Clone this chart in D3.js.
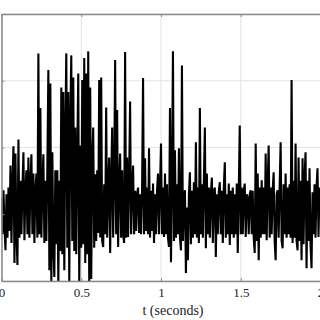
<!DOCTYPE html>
<html>
<head>
<meta charset="utf-8">
<script src="https://cdnjs.cloudflare.com/ajax/libs/d3/7.8.5/d3.min.js"></script>
<style>
    body { margin: 0; background: #fff; }
    svg { display: block; }
    .tick text { font-family: "Liberation Serif", "Times New Roman", serif; font-size: 13px; fill: #222; }
</style>
</head>
<body>
<div id="svg_container"></div>
<script>
// Signal values, one sample every 0.00625 s
var signal = [
     0.25, -0.30,  0.36, -0.20, -0.54,  0.30, -0.35,  0.40, -0.25,  0.73,
    -0.43,  0.45,  1.02, -0.73,  0.91, -0.30, -0.76,  1.12, -0.35,  0.50,
    -0.30,  0.40,  0.93, -0.39,  0.35,  0.66, -0.30,  0.85, -0.35,  0.45,
     0.90, -0.30,  0.61, -0.43,  0.35,  0.61, -0.35,  2.41, -0.30,  1.59,
    -0.35,  0.45,  0.90, -0.43,  0.50, -0.40,  0.70,  2.16, -0.84,  1.96,
    -1.05,  0.93, -0.50, -0.94,  0.66, -0.45,  0.66, -1.05,  0.50, -0.55,
     1.90, -0.60,  1.83, -0.84,  1.20,  2.41, -0.50,  1.83, -1.05,  1.40,
     2.38, -0.40,  2.05, -0.55,  1.30, -0.60,  0.90,  2.11, -1.05,  1.03,
    -0.50,  2.01, -0.45,  2.34, -0.73,  2.11, -0.60,  2.44, -1.05,  1.90,
    -0.97,  0.80,  1.30, -0.50,  0.60, -0.40,  0.66, -0.28,  2.01, -0.35,
     2.05, -0.40, -0.49,  0.45, -0.30,  1.60, -0.35,  0.40,  0.85, -0.58,
     0.50,  1.30, -0.35,  0.55,  2.31, -0.30,  1.56, -0.49,  0.45,  0.91,
    -0.35,  0.66, -0.30, -0.43,  2.43, -0.35,  0.85, -0.34,  0.50,  1.69,
    -0.30,  0.40,  0.73, -0.30,  0.35, -0.25,  0.30,  0.40, -0.28,  0.30,
    -0.30,  0.35,  2.04, -0.30,  0.84, -0.25,  0.40, -0.30,  0.99, -0.35,
     0.35, -0.25,  0.46, -0.43,  0.30, -0.30,  0.35,  0.61, -0.30,  0.40,
     1.06, -0.30,  0.40, -0.34,  0.61, -0.30,  0.45, -0.35, -0.49,  1.59,
    -0.72,  0.50,  2.44, -0.40,  0.96, -0.35,  0.45, -0.30,  0.99, -0.35,
    -0.54,  2.23, -0.40,  0.20,  0.36, -0.88,  0.10, -0.69,  0.30,  0.63,
    -0.45,  0.35, -0.35,  0.48, -0.30,  1.08, -0.35,  0.40, -0.43,  1.59,
    -0.30,  0.45, -0.35,  0.50,  1.30, -0.51,  0.61, -0.30,  0.40, -0.35,
     0.30,  0.55, -0.43,  0.35,  0.40, -0.64,  0.30, -0.30,  0.35,  0.48,
    -0.30,  0.35, -0.43,  0.40,  0.78, -0.35,  0.30, -0.30,  0.46, -0.46,
     0.35, -0.30,  0.40, -0.35,  0.30, -0.30,  0.46, -0.58,  0.35,  1.33,
    -0.30,  0.40, -0.30,  0.35,  0.46, -0.34,  0.30,  0.25, -0.30,  0.30,
     0.36, -0.30,  0.35, -0.35, -0.58,  1.06, -0.40,  0.61, -0.69,  0.40,
    -0.35,  0.51, -0.30,  0.40, -0.30,  0.91, -0.39,  0.45,  1.03, -0.35,
     0.40, -0.30,  0.35,  0.63, -0.40, -0.69,  0.30,  0.36, -0.35,  0.40,
     1.08, -0.40, -0.51,  0.45, -0.30,  0.61, -0.35,  0.40, -0.30,  0.45,
    -0.35,  2.01, -0.43,  0.50, -0.35,  1.06, -0.40, -0.54,  0.85, -0.40,
     0.50, -0.69,  0.84, -0.45,  0.55,  0.93, -0.81,  0.50, -0.40,  0.69,
    -0.45, -0.81,  0.33, -0.30,  0.45, -0.35,  0.40,  0.69, -0.34,  0.40
];
var dt = 0.00625;
var xTicks = [0, 0.5, 1, 1.5, 2];
var xTickLabels = ["0", "0.5", "1", "1.5", "2"];
var yTicks = [-1, 0, 1, 2, 3];
var xTitle = "t (seconds)";

// Chart dimension
var margin = {top: 14, right: 0, bottom: 39, left: 1.5};
var width = 319;
var height = 320 - margin.top - margin.bottom;

var svg = d3.select("#svg_container")
    .append("svg")
    .attr("width", 320)
    .attr("height", 320);

var g = svg.append("g").attr("transform", "translate(" + margin.left + "," + margin.top + ")");

var x = d3.scaleLinear().domain([0, 2]).range([0, width]);
var y = d3.scaleLinear().domain([-1, 3]).range([height, 0]);

// Grid lines
var grid = g.append("g").attr("class", "grid");

grid.selectAll("line.gx")
    .data(xTicks)
    .enter()
    .append("line")
    .attr("class", "gx")
    .attr("x1", function(d) { return x(d); })
    .attr("x2", function(d) { return x(d); })
    .attr("y1", 0)
    .attr("y2", height);

grid.selectAll("line.gy")
    .data(yTicks)
    .enter()
    .append("line")
    .attr("class", "gy")
    .attr("x1", 0)
    .attr("x2", width)
    .attr("y1", function(d) { return y(d); })
    .attr("y2", function(d) { return y(d); });

grid.selectAll("line").attr("stroke", "#e4e4e4").attr("stroke-width", 1);

// Clip the signal to the axes box
svg.append("defs").append("clipPath")
    .attr("id", "plot_clip")
    .append("rect")
    .attr("x", 0).attr("y", 0)
    .attr("width", width).attr("height", height);

var line = d3.line()
    .x(function(d, i) { return x(i * dt); })
    .y(function(d) { return y(d); });

g.append("path")
    .datum(signal)
    .attr("clip-path", "url(#plot_clip)")
    .attr("fill", "none")
    .attr("stroke", "#000")
    .attr("stroke-width", 2.1)
    .attr("stroke-linejoin", "bevel")
    .attr("d", line);

// Axes (ticks point inward)
g.append("g")
    .attr("transform", "translate(0," + height + ")")
    .call(d3.axisBottom(x)
        .tickValues(xTicks)
        .tickFormat(function(d, i) { return xTickLabels[i]; })
        .tickSizeInner(-3)
        .tickSizeOuter(0)
        .tickPadding(7));

g.append("g")
    .call(d3.axisTop(x).tickValues(xTicks).tickFormat("").tickSizeInner(-3).tickSizeOuter(0));

g.append("g")
    .call(d3.axisLeft(y).tickValues(yTicks).tickFormat("").tickSizeInner(-3).tickSizeOuter(0));

svg.selectAll(".domain").attr("stroke", "#8a8a8a").attr("stroke-width", 1.5);
svg.selectAll(".tick line").attr("stroke", "#8a8a8a");

// Axis title
svg.append("text")
    .attr("x", 173)
    .attr("y", 315)
    .attr("text-anchor", "middle")
    .style("font-family", "'Liberation Serif', 'Times New Roman', serif")
    .style("font-size", "14px")
    .style("fill", "#222")
    .text(xTitle);
</script>
</body>
</html>
